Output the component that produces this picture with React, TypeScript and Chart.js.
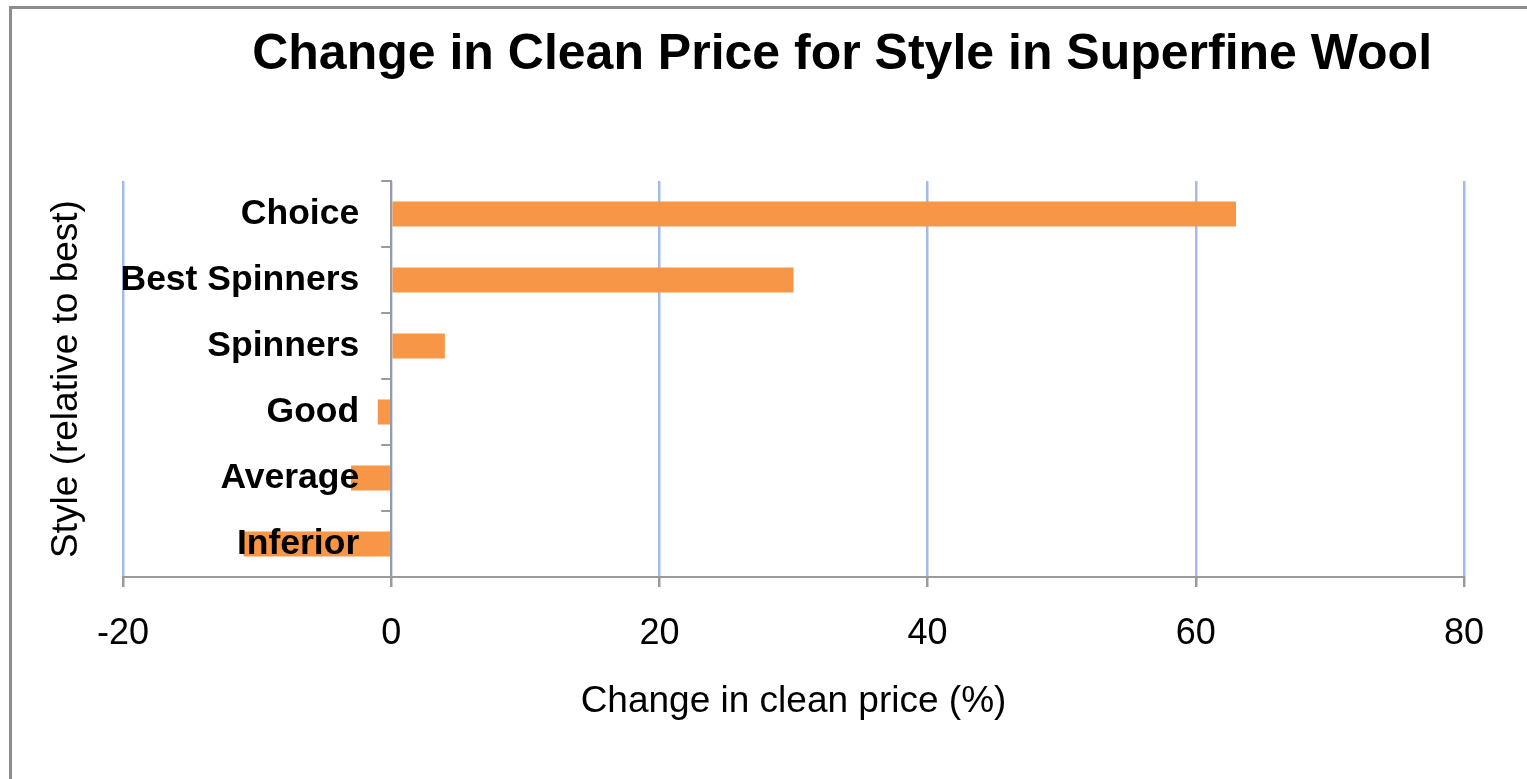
import React, { useEffect, useRef } from "react";
import { Chart, registerables } from "chart.js";

Chart.register(...registerables);

const TITLE = "Change in Clean Price for Style in Superfine Wool";
const X_TITLE = "Change in clean price (%)";
const Y_TITLE = "Style (relative to best)";
const categories = ["Choice", "Best Spinners", "Spinners", "Good", "Average", "Inferior"];
const changeValues = [63, 30, 4, -1, -3, -11];
const xMin = -20;
const xMax = 80;
const xStep = 20;

const FONT = '"Liberation Sans", Arial, sans-serif';

const titlePlugin = {
  id: "mainTitle",
  afterDraw(chart: any) {
    const ctx = chart.ctx;
    ctx.save();
    ctx.font = `bold 50px ${FONT}`;
    ctx.fillStyle = "#000";
    ctx.textAlign = "center";
    ctx.textBaseline = "middle";
    ctx.fillText(TITLE, chart.width * 0.5515, 55);
    ctx.restore();
  },
};

// Moves the category axis so that it crosses the value axis at zero (Excel style).
const crossAtZeroPlugin = {
  id: "crossAtZero",
  afterLayout(chart: any) {
    const x = chart.scales.x;
    const y = chart.scales.y;
    if (!x || !y) return;
    const px = x.getPixelForValue(0);
    y.left = 0;
    y.right = px;
    y.width = px;
  },
};

export default function App() {
  const ref = useRef<HTMLCanvasElement | null>(null);

  useEffect(() => {
    if (!ref.current) return;
    const chart = new Chart(ref.current, {
      type: "bar",
      data: {
        labels: categories,
        datasets: [
          {
            label: "Change",
            data: changeValues,
            backgroundColor: "#f79646",
            borderWidth: 0,
            barPercentage: 0.38,
            categoryPercentage: 1,
            yAxisID: "y",
            xAxisID: "x",
          },
        ],
      },
      options: {
        indexAxis: "y",
        responsive: false,
        animation: false,
        layout: { padding: { top: 181, right: 63, bottom: 0, left: 0 } },
        plugins: {
          legend: { display: false },
          title: { display: false },
          tooltip: { enabled: false },
        },
        scales: {
          x: {
            type: "linear",
            position: "bottom",
            min: xMin,
            max: xMax,
            ticks: {
              stepSize: xStep,
              color: "#000",
              padding: 25,
              font: { family: FONT, size: 36 },
            },
            grid: {
              color: "#a3bbe8",
              lineWidth: 2.5,
              tickColor: "#9a9a9a",
              tickLength: 10,
              drawTicks: true,
            },
            border: { display: true, color: "#9a9a9a", width: 2 },
            title: {
              display: true,
              text: X_TITLE,
              color: "#000",
              font: { family: FONT, size: 37 },
              padding: { top: 0, bottom: 55 },
            },
            afterFit: (scale: any) => {
              scale.height = 202;
            },
          },
          y: {
            type: "category",
            position: "left",
            weight: 0,
            ticks: {
              color: "#000",
              padding: 22,
              z: 1,
              font: { family: FONT, size: 35.5, weight: "bold" },
            },
            grid: {
              drawOnChartArea: false,
              drawTicks: true,
              tickLength: 10,
              tickColor: "#9a9a9a",
              lineWidth: 2,
              offset: true,
            },
            border: { display: true, color: "#9a9a9a", width: 2, z: 1 },
            afterFit: (scale: any) => {
              scale.width = 0;
            },
          },
          y2: {
            type: "category",
            axis: "y",
            position: "left",
            weight: 1,
            labels: categories,
            ticks: { display: false },
            grid: { display: false },
            border: { display: false },
            title: {
              display: true,
              text: Y_TITLE,
              color: "#000",
              font: { family: FONT, size: 37 },
              padding: { top: 45, bottom: 0 },
            },
            afterFit: (scale: any) => {
              scale.width = 123;
            },
          },
        },
      } as any,
      plugins: [crossAtZeroPlugin, titlePlugin],
    });
    return () => chart.destroy();
  }, []);

  return (
    <div
      style={{
        position: "fixed",
        left: 0,
        top: 0,
        width: 1527,
        height: 779,
        overflow: "hidden",
        background: "#fff",
      }}
    >
      <div
        style={{
          position: "absolute",
          left: 9,
          top: 6,
          width: 1600,
          height: 900,
          border: "3px solid #8c8c8c",
        }}
      />
      <canvas
        ref={ref}
        width={1527}
        height={779}
        style={{ position: "absolute", left: 0, top: 0, width: 1527, height: 779 }}
      />
    </div>
  );
}
